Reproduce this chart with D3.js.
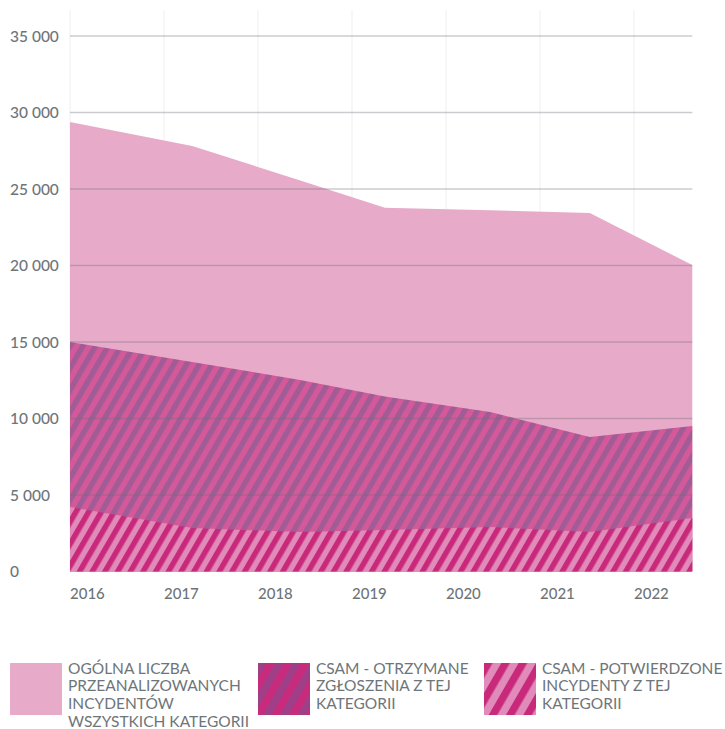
<!DOCTYPE html>
<html>
<head>
<meta charset="utf-8">
<script src="https://cdn.jsdelivr.net/npm/d3@7"></script>
<style>
  body { margin: 0; background: #fff; }
  text { font-family: Lato, "Open Sans", sans-serif; fill: #6e7579; }
</style>
</head>
<body>
<div id="chart"></div>
<script>
// years (break points of the areas, in fractional years)
const years = [2016, 2017.3, 2018.45, 2019.35, 2020.47, 2021.53, 2022.62];
const totalIncidents = [29380, 27810, 25560, 23780, 23610, 23430, 20030];
const csamReceived = [15000, 13690, 12520, 11440, 10420, 8790, 9510];
const csamConfirmed = [4215, 2840, 2580, 2710, 2910, 2580, 3500];
const tickYears = [2016, 2017, 2018, 2019, 2020, 2021, 2022];
const yTicks = [0, 5000, 10000, 15000, 20000, 25000, 30000, 35000];
const legendLabels = [
  ["OGÓLNA LICZBA", "PRZEANALIZOWANYCH", "INCYDENTÓW", "WSZYSTKICH KATEGORII"],
  ["CSAM - OTRZYMANE", "ZGŁOSZENIA Z TEJ", "KATEGORII"],
  ["CSAM - POTWIERDZONE", "INCYDENTY Z TEJ", "KATEGORII"]
];

const width = 725, height = 729,
    margin = {top: 36, left: 70, bottom: 157};

const x = d3.scaleLinear()
    .domain([2016, 2023])
    .range([margin.left, margin.left + 94 * 7]);

const y = d3.scaleLinear()
    .domain([0, 35000])
    .range([height - margin.bottom - 0.5, margin.top]);

const svg = d3.select("#chart")
    .append("svg")
    .attr("width", width)
    .attr("height", height);

const defs = svg.append("defs");
function stripes(id, bg, fg, w) {
  const p = defs.append("pattern")
      .attr("id", id)
      .attr("patternUnits", "userSpaceOnUse")
      .attr("width", w)
      .attr("height", w)
      .attr("patternTransform", "rotate(30)");
  p.append("rect").attr("width", w).attr("height", w).attr("fill", bg);
  p.append("rect").attr("width", w / 2).attr("height", w).attr("fill", fg);
}
stripes("midStripes", "#d4599a", "#a15c95", 11);
stripes("lowStripes", "#e08bb9", "#c8297b", 11);
stripes("midLegend", "#c92b7c", "#9e3f88", 15);
stripes("lowLegend", "#e08bb9", "#c8297b", 15);

// vertical grid
svg.append("g")
  .selectAll("line")
  .data(tickYears)
  .join("line")
    .attr("x1", d => x(d)).attr("x2", d => x(d))
    .attr("y1", 10).attr("y2", y(0))
    .attr("stroke", "#efefef")
    .attr("stroke-width", 1);

const area = vals => d3.area()
    .x((d, i) => x(years[i]))
    .y0(y(0))
    .y1(d => y(d))(vals);

svg.append("path").attr("d", area(totalIncidents)).attr("fill", "#e7abc9");
svg.append("path").attr("d", area(csamReceived)).attr("fill", "url(#midStripes)");
svg.append("path").attr("d", area(csamConfirmed)).attr("fill", "url(#lowStripes)");

// horizontal grid over the areas
svg.append("g")
  .selectAll("line")
  .data(yTicks.filter(d => d > 0))
  .join("line")
    .attr("x1", x(2016)).attr("x2", x(years[years.length - 1]))
    .attr("y1", d => y(d)).attr("y2", d => y(d))
    .attr("stroke", "rgba(110,110,120,0.35)")
    .attr("stroke-width", 1.5);

// y labels
svg.append("g")
  .selectAll("text")
  .data(yTicks)
  .join("text")
    .attr("x", 10)
    .attr("y", d => y(d))
    .attr("dy", "0.36em")
    .attr("font-size", 15.5)
    .attr("font-weight", 500)
    .text(d => d3.format(",")(d).replace(/,/g, " "));

// x labels
svg.append("g")
  .selectAll("text")
  .data(tickYears)
  .join("text")
    .attr("x", d => x(d))
    .attr("y", 599)
    .attr("font-size", 15)
    .attr("font-weight", 500)
    .text(d => d);

// legend
const legendX = [10, 258, 484];
const legendFill = ["#e7abc9", "url(#midLegend)", "url(#lowLegend)"];
const lg = svg.append("g")
  .selectAll("g")
  .data(legendLabels)
  .join("g")
    .attr("transform", (d, i) => `translate(${legendX[i]},663)`);

lg.append("rect")
    .attr("width", 52)
    .attr("height", 52)
    .attr("fill", (d, i) => legendFill[i]);

lg.append("text")
    .attr("font-size", 15.5)
    .selectAll("tspan")
    .data(d => d)
    .join("tspan")
      .attr("x", 58)
      .attr("y", (d, i) => 10.5 + i * 17.7)
      .text(d => d);
</script>
</body>
</html>
